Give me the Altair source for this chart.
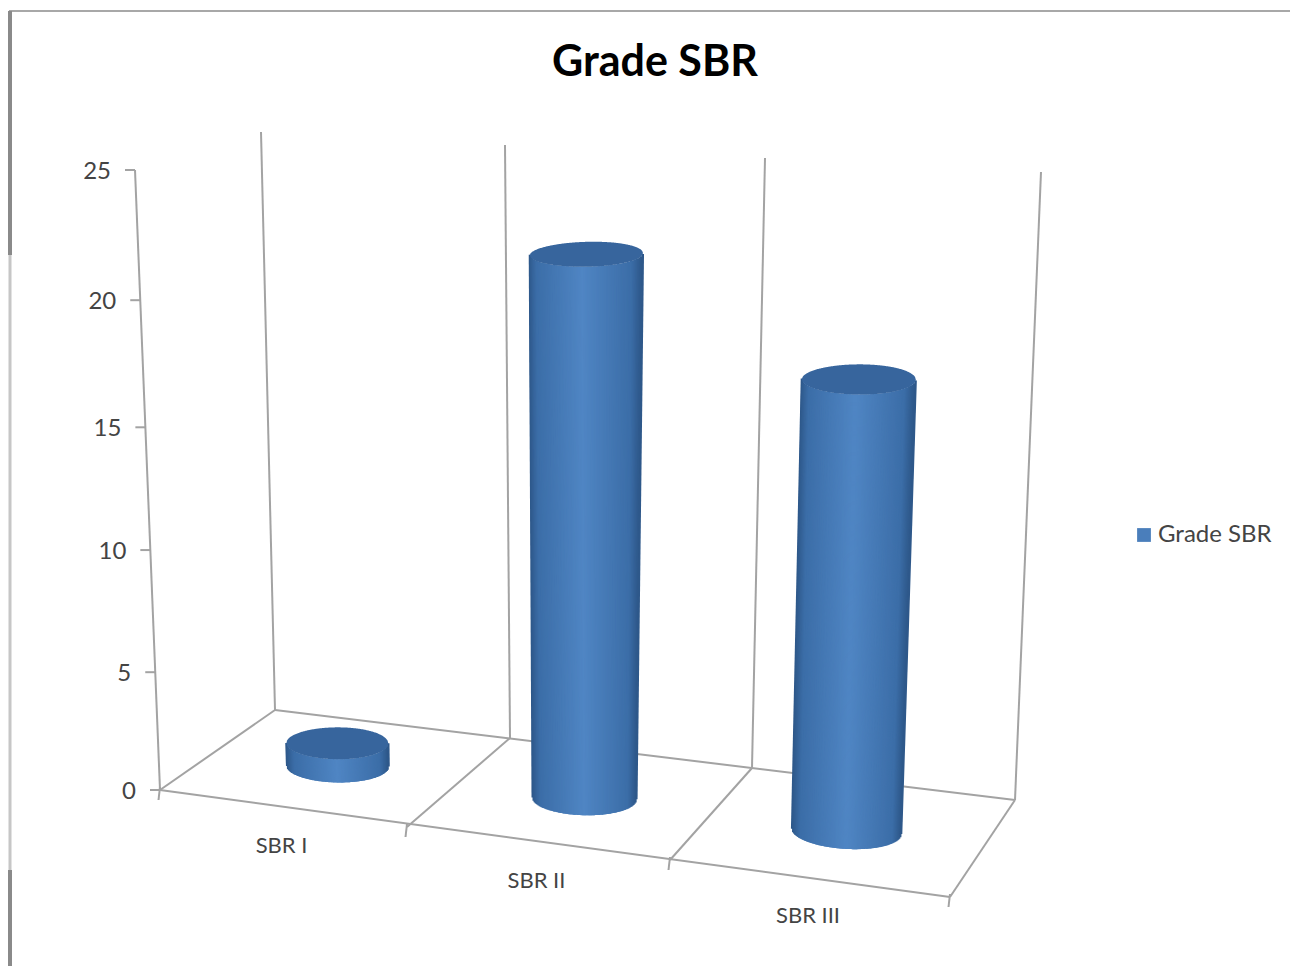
import numpy as np
import pandas as pd
import altair as alt

# Chart values
CATEGORIES = ["SBR I", "SBR II", "SBR III"]
VALUES = [1, 22, 18]
SERIES_NAME = "Grade SBR"
VALUE_TICKS = [0, 5, 10, 15, 20, 25]

W, H = 1290, 966
FONT = "Lato"
TEXT_COLOR = "#444444"
GRID_COLOR = "#a3a3a3"
CAP_COLOR = "#37659d"

# Perspective box: screen anchors at each category boundary
BACK_FLOOR_X = [275, 510, 752, 1015]
BACK_FLOOR_Y = [710, 738, 768, 800]
FRONT_FLOOR_X = [160, 407, 670, 950]
FRONT_FLOOR_Y = [790, 827, 860, 897]
BACK_TOP_X = [261, 505, 765, 1041]
BACK_TOP_Y = [132, 145, 158, 172]
FRONT_TOP_X = [135, 398, 680, 970]
FRONT_TOP_Y = [170, 190, 210, 232]
# Height share of each value tick; the perspective stretches the lower part
HEIGHT_SHARE = [0, 0.19, 0.387, 0.585, 0.79, 1.0]


def project(u, d, v):
    """Map category position u, depth d (0 front, 1 back) and value v to the screen."""
    u, d, v = np.broadcast_arrays(np.asarray(u, float), np.asarray(d, float), np.asarray(v, float))
    idx = [0, 1, 2, 3]
    h = np.interp(v, VALUE_TICKS, HEIGHT_SHARE)
    def blend(ff, bf, ft, bt):
        floor = np.interp(u, idx, ff) * (1 - d) + np.interp(u, idx, bf) * d
        top = np.interp(u, idx, ft) * (1 - d) + np.interp(u, idx, bt) * d
        return floor * (1 - h) + top * h
    return (blend(FRONT_FLOOR_X, BACK_FLOOR_X, FRONT_TOP_X, BACK_TOP_X),
            blend(FRONT_FLOOR_Y, BACK_FLOOR_Y, FRONT_TOP_Y, BACK_TOP_Y))


def segments():
    """Box edges and tick marks as two-point rules."""
    rows = []
    def add(p, q):
        rows.append(dict(x=float(p[0]), y=float(p[1]), x2=float(q[0]), y2=float(q[1])))
    for u in range(4):
        add(project(u, 1, 0), project(u, 1, 25))
        add(project(u, 0, 0), project(u, 1, 0))
    add(project(0, 0, 0), project(0, 0, 25))
    add(project(0, 0, 0), project(3, 0, 0))
    add(project(0, 1, 0), project(3, 1, 0))
    for v in VALUE_TICKS:
        x, y = project(0, 0, v)
        add((x, y), (x - 10, y))
    for u in range(4):
        x, y = project(u, 0, 0)
        add((x, y - 3), (x - 1.5, y + 10))
    return pd.DataFrame(rows)


def shade(f):
    """Cylinder side colour across its width, f from 0 (left) to 1 (right)."""
    stops = [0.0, 0.08, 0.5, 0.92, 1.0]
    r = np.interp(f, stops, [0x2e, 0x3c, 0x50, 0x3c, 0x2e])
    g = np.interp(f, stops, [0x58, 0x6e, 0x86, 0x6e, 0x58])
    b = np.interp(f, stops, [0x8a, 0xa8, 0xc4, 0xa8, 0x8a])
    return "#%02x%02x%02x" % (int(r), int(g), int(b))


R_U, R_D_BASE, R_D_TOP = 0.195, 0.175, 0.23
theta = np.linspace(0, 2 * np.pi, 721)[:-1]
strips, caps = [], []
for i, (cat, val) in enumerate(zip(CATEGORIES, VALUES)):
    cu = i + 0.5 + R_U * np.cos(theta)
    # The depth radius opens up with height, so the cap reads as seen from lower down
    r_top = R_D_BASE + (R_D_TOP - R_D_BASE) * val / VALUE_TICKS[-1]
    bx, by = project(cu, 0.5 + R_D_BASE * np.sin(theta), 0)
    tx, ty = project(cu, 0.5 + r_top * np.sin(theta), val)
    # Front half of the base circle, walked left to right
    a, b = int(np.argmin(bx)), int(np.argmax(bx))
    order = np.arange(a, a + ((b - a) % 720) + 1) % 720
    if by[order].mean() < by.mean():
        order = np.arange(a, a - ((a - b) % 720) - 1, -1) % 720
    left, right = bx[order[0]], bx[order[-1]]
    n = int(right - left) + 1
    for k in range(n + 1):
        f = k / n
        pos = np.searchsorted(bx[order], left + f * (right - left))
        j = order[int(np.clip(pos, 0, len(order) - 1))]
        strips.append(dict(x=bx[j], y=by[j], x2=tx[j], y2=ty[j], color=shade(f), category=cat))
    # Top face: upper and lower arcs sampled on a common x grid
    a, b = int(np.argmin(tx)), int(np.argmax(tx))
    o1 = np.arange(a, a + ((b - a) % 720) + 1) % 720
    o2 = np.arange(a, a - ((a - b) % 720) - 1, -1) % 720
    grid = np.linspace(tx[a], tx[b], 160)
    y1 = np.interp(grid, tx[o1], ty[o1])
    y2 = np.interp(grid, tx[o2], ty[o2])
    caps.append(pd.DataFrame(dict(x=grid, y=y1, y2=y2, category=cat)))

strips = pd.DataFrame(strips)
caps = pd.concat(caps, ignore_index=True)

tick_rows = []
for v in VALUE_TICKS:
    x, y = project(0, 0, v)
    tick_rows.append(dict(x=float(x) - 24, y=float(y) + 2, label=str(v)))
ticks_df = pd.DataFrame(tick_rows)

cat_rows = []
for i, c in enumerate(CATEGORIES):
    x, y = project(i + 0.5, 0, 0)
    cat_rows.append(dict(x=float(x) - 2, y=float(y) + 37, label=c))
cats_df = pd.DataFrame(cat_rows)

frame_df = pd.DataFrame([
    dict(x=9, y=11, x2=W, y2=11, w=2, color="#a8a8a8"),
    dict(x=10, y=11, x2=10, y2=255, w=4, color="#8a8a8a"),
    dict(x=10, y=255, x2=10, y2=870, w=3, color="#c6c6c6"),
    dict(x=10, y=870, x2=10, y2=H, w=4, color="#8a8a8a"),
])

X = alt.X("x:Q", scale=alt.Scale(domain=[0, W]), axis=None)
Y = alt.Y("y:Q", scale=alt.Scale(domain=[H, 0]), axis=None)

frame = alt.Chart(frame_df).mark_rule().encode(
    X, Y, x2="x2:Q", y2="y2:Q",
    color=alt.Color("color:N", scale=None),
    strokeWidth=alt.StrokeWidth("w:Q", scale=None),
)
grid = alt.Chart(segments()).mark_rule(color=GRID_COLOR, strokeWidth=2).encode(X, Y, x2="x2:Q", y2="y2:Q")
sides = alt.Chart(strips).mark_rule(strokeWidth=2.4).encode(
    X, Y, x2="x2:Q", y2="y2:Q", color=alt.Color("color:N", scale=None)
)
tops = alt.Chart(caps).mark_area(color=CAP_COLOR).encode(X, Y, y2="y2:Q", detail="category:N")
value_labels = alt.Chart(ticks_df).mark_text(
    font=FONT, fontSize=24, color=TEXT_COLOR, align="right", baseline="middle"
).encode(X, Y, text="label:N")
category_labels = alt.Chart(cats_df).mark_text(
    font=FONT, fontSize=22, color=TEXT_COLOR, align="center", baseline="middle"
).encode(X, Y, text="label:N")
legend_layer = alt.Chart(pd.DataFrame(dict(x=[0], y=[0], series=[SERIES_NAME]))).mark_point(
    shape="square", filled=True, opacity=0
).encode(
    X, Y,
    fill=alt.Fill(
        "series:N",
        scale=alt.Scale(range=["#4a7ebb"]),
        legend=alt.Legend(
            orient="none", legendX=1132, legendY=523, title=None, symbolType="square",
            symbolSize=190, symbolOpacity=1, labelFont=FONT, labelFontSize=24,
            labelColor=TEXT_COLOR, labelOffset=2,
        ),
    ),
)

chart = alt.layer(
    frame, grid, sides, tops, value_labels, category_labels, legend_layer
).resolve_scale(color="independent").properties(
    width=W,
    height=H,
    padding=0,
    autosize=alt.AutoSizeParams(type="none"),
    title=alt.TitleParams(
        SERIES_NAME, font=FONT, fontSize=43, fontWeight="bold", color="#000000",
        anchor="middle", dx=10, dy=109, baseline="middle", offset=0,
    ),
).configure_view(stroke=None)

chart.save("out.html", embed_options={"renderer": "svg", "actions": False})
